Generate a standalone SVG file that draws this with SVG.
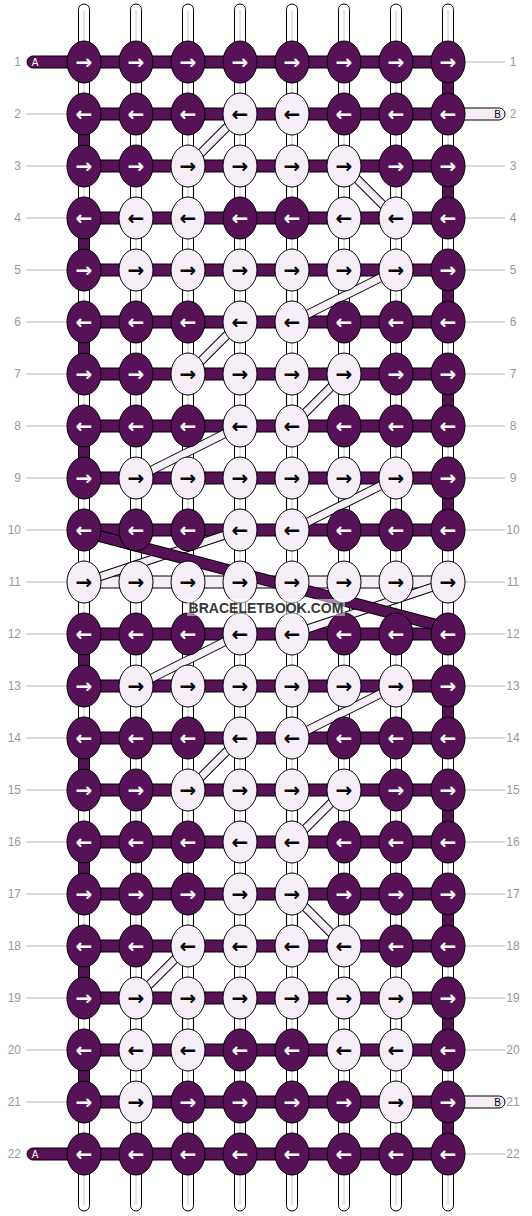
<svg xmlns="http://www.w3.org/2000/svg" width="532" height="1216" viewBox="0 0 532 1216">
<style>
.bg{fill:#fff}
.warp{fill:#fff;stroke:#000;stroke-width:1}
.wc{stroke:#c8c8c8;stroke-width:1}
.pb{fill:#561157;stroke:#000;stroke-width:1}
.lb{fill:#f5eef7;stroke:#000;stroke-width:1}
.do{stroke:#000;stroke-width:9;fill:none}
.di{stroke:#f5eef7;stroke-width:7;fill:none}
.po{stroke:#000;stroke-width:12;fill:none}
.pi{stroke:#561157;stroke-width:10;fill:none}
.d{fill:#561157;stroke:#000;stroke-width:1}
.l{fill:#f5eef7;stroke:#000;stroke-width:1}
.tw,.tb{font-family:"DejaVu Sans",sans-serif;font-weight:bold;font-size:20px;text-anchor:middle}
.tw{fill:#fff}
.tb{fill:#000}
.gl{stroke:#bbb;stroke-width:1}
.lab{font-family:"Liberation Sans",Arial,sans-serif;font-size:12px;fill:#999}
.le{text-anchor:end}
.ri{text-anchor:middle}
.endt{font-family:"Liberation Sans",Arial,sans-serif;font-size:10px;text-anchor:middle}
.wm{font-family:"Liberation Sans",Arial,sans-serif;font-size:14px;font-weight:bold;fill:#383838;text-anchor:middle}
</style>
<rect class="bg" x="0" y="0" width="532" height="1216"/>
<g id="warps">
<rect class="warp" x="78.5" y="4" width="11" height="1207" rx="5.5"/>
<rect class="warp" x="130.5" y="4" width="11" height="1207" rx="5.5"/>
<rect class="warp" x="182.5" y="4" width="11" height="1207" rx="5.5"/>
<rect class="warp" x="234.5" y="4" width="11" height="1207" rx="5.5"/>
<rect class="warp" x="286.5" y="4" width="11" height="1207" rx="5.5"/>
<rect class="warp" x="338.5" y="4" width="11" height="1207" rx="5.5"/>
<rect class="warp" x="390.5" y="4" width="11" height="1207" rx="5.5"/>
<rect class="warp" x="442.5" y="4" width="11" height="1207" rx="5.5"/>
<line class="wc" x1="84" y1="10" x2="84" y2="1205"/>
<line class="wc" x1="136" y1="10" x2="136" y2="1205"/>
<line class="wc" x1="188" y1="10" x2="188" y2="1205"/>
<line class="wc" x1="240" y1="10" x2="240" y2="1205"/>
<line class="wc" x1="292" y1="10" x2="292" y2="1205"/>
<line class="wc" x1="344" y1="10" x2="344" y2="1205"/>
<line class="wc" x1="396" y1="10" x2="396" y2="1205"/>
<line class="wc" x1="448" y1="10" x2="448" y2="1205"/>
</g>
<g id="guides">
<line class="gl" x1="26" y1="114" x2="67" y2="114"/>
<line class="gl" x1="26" y1="166" x2="67" y2="166"/>
<line class="gl" x1="26" y1="218" x2="67" y2="218"/>
<line class="gl" x1="26" y1="270" x2="67" y2="270"/>
<line class="gl" x1="26" y1="322" x2="67" y2="322"/>
<line class="gl" x1="26" y1="374" x2="67" y2="374"/>
<line class="gl" x1="26" y1="426" x2="67" y2="426"/>
<line class="gl" x1="26" y1="478" x2="67" y2="478"/>
<line class="gl" x1="26" y1="530" x2="67" y2="530"/>
<line class="gl" x1="26" y1="582" x2="67" y2="582"/>
<line class="gl" x1="26" y1="634" x2="67" y2="634"/>
<line class="gl" x1="26" y1="686" x2="67" y2="686"/>
<line class="gl" x1="26" y1="738" x2="67" y2="738"/>
<line class="gl" x1="26" y1="790" x2="67" y2="790"/>
<line class="gl" x1="26" y1="842" x2="67" y2="842"/>
<line class="gl" x1="26" y1="894" x2="67" y2="894"/>
<line class="gl" x1="26" y1="946" x2="67" y2="946"/>
<line class="gl" x1="26" y1="998" x2="67" y2="998"/>
<line class="gl" x1="26" y1="1050" x2="67" y2="1050"/>
<line class="gl" x1="26" y1="1102" x2="67" y2="1102"/>
<line class="gl" x1="465" y1="62" x2="505" y2="62"/>
<line class="gl" x1="465" y1="166" x2="505" y2="166"/>
<line class="gl" x1="465" y1="218" x2="505" y2="218"/>
<line class="gl" x1="465" y1="270" x2="505" y2="270"/>
<line class="gl" x1="465" y1="322" x2="505" y2="322"/>
<line class="gl" x1="465" y1="374" x2="505" y2="374"/>
<line class="gl" x1="465" y1="426" x2="505" y2="426"/>
<line class="gl" x1="465" y1="478" x2="505" y2="478"/>
<line class="gl" x1="465" y1="530" x2="505" y2="530"/>
<line class="gl" x1="465" y1="582" x2="505" y2="582"/>
<line class="gl" x1="465" y1="634" x2="505" y2="634"/>
<line class="gl" x1="465" y1="686" x2="505" y2="686"/>
<line class="gl" x1="465" y1="738" x2="505" y2="738"/>
<line class="gl" x1="465" y1="790" x2="505" y2="790"/>
<line class="gl" x1="465" y1="842" x2="505" y2="842"/>
<line class="gl" x1="465" y1="894" x2="505" y2="894"/>
<line class="gl" x1="465" y1="946" x2="505" y2="946"/>
<line class="gl" x1="465" y1="998" x2="505" y2="998"/>
<line class="gl" x1="465" y1="1050" x2="505" y2="1050"/>
<line class="gl" x1="465" y1="1154" x2="505" y2="1154"/>
</g>
<g id="connectors">
<rect class="pb" x="27" y="56" width="421" height="12" rx="6"/>
<rect class="pb" x="84" y="108" width="364" height="12"/>
<rect class="lb" x="440" y="108" width="65" height="12" rx="6"/>
<rect class="pb" x="84" y="160" width="364" height="12"/>
<rect class="pb" x="84" y="212" width="364" height="12"/>
<rect class="pb" x="84" y="264" width="364" height="12"/>
<rect class="pb" x="84" y="316" width="364" height="12"/>
<rect class="pb" x="84" y="368" width="364" height="12"/>
<rect class="pb" x="84" y="420" width="364" height="12"/>
<rect class="pb" x="84" y="472" width="364" height="12"/>
<rect class="pb" x="84" y="524" width="364" height="12"/>
<rect class="lb" x="84" y="576" width="364" height="12"/>
<rect class="pb" x="84" y="628" width="364" height="12"/>
<rect class="pb" x="84" y="680" width="364" height="12"/>
<rect class="pb" x="84" y="732" width="364" height="12"/>
<rect class="pb" x="84" y="784" width="364" height="12"/>
<rect class="pb" x="84" y="836" width="364" height="12"/>
<rect class="pb" x="84" y="888" width="364" height="12"/>
<rect class="pb" x="84" y="940" width="364" height="12"/>
<rect class="pb" x="84" y="992" width="364" height="12"/>
<rect class="pb" x="84" y="1044" width="364" height="12"/>
<rect class="pb" x="84" y="1096" width="364" height="12"/>
<rect class="lb" x="440" y="1096" width="65" height="12" rx="6"/>
<rect class="pb" x="27" y="1148" width="421" height="12" rx="6"/>
<rect class="pb" x="442.5" y="62" width="11" height="52"/>
<rect class="pb" x="442.5" y="166" width="11" height="52"/>
<rect class="pb" x="442.5" y="270" width="11" height="52"/>
<rect class="pb" x="442.5" y="374" width="11" height="52"/>
<rect class="pb" x="442.5" y="478" width="11" height="52"/>
<rect class="pb" x="442.5" y="686" width="11" height="52"/>
<rect class="pb" x="442.5" y="790" width="11" height="52"/>
<rect class="pb" x="442.5" y="894" width="11" height="52"/>
<rect class="pb" x="442.5" y="998" width="11" height="52"/>
<rect class="pb" x="442.5" y="1102" width="11" height="52"/>
<rect class="pb" x="78.5" y="114" width="11" height="52"/>
<rect class="pb" x="78.5" y="218" width="11" height="52"/>
<rect class="pb" x="78.5" y="322" width="11" height="52"/>
<rect class="pb" x="78.5" y="426" width="11" height="52"/>
<rect class="pb" x="78.5" y="634" width="11" height="52"/>
<rect class="pb" x="78.5" y="738" width="11" height="52"/>
<rect class="pb" x="78.5" y="842" width="11" height="52"/>
<rect class="pb" x="78.5" y="946" width="11" height="52"/>
<rect class="pb" x="78.5" y="1050" width="11" height="52"/>
<g>
<line class="do" x1="240" y1="114" x2="188" y2="166"/><line class="di" x1="240" y1="114" x2="188" y2="166"/>
<line class="do" x1="344" y1="166" x2="396" y2="218"/><line class="di" x1="344" y1="166" x2="396" y2="218"/>
<line class="do" x1="396" y1="270" x2="292" y2="322"/><line class="di" x1="396" y1="270" x2="292" y2="322"/>
<line class="do" x1="240" y1="322" x2="188" y2="374"/><line class="di" x1="240" y1="322" x2="188" y2="374"/>
<line class="do" x1="344" y1="374" x2="292" y2="426"/><line class="di" x1="344" y1="374" x2="292" y2="426"/>
<line class="do" x1="240" y1="426" x2="136" y2="478"/><line class="di" x1="240" y1="426" x2="136" y2="478"/>
<line class="do" x1="396" y1="478" x2="292" y2="530"/><line class="di" x1="396" y1="478" x2="292" y2="530"/>
<line class="do" x1="240" y1="530" x2="84" y2="582"/><line class="di" x1="240" y1="530" x2="84" y2="582"/>
<line class="do" x1="448" y1="582" x2="292" y2="634"/><line class="di" x1="448" y1="582" x2="292" y2="634"/>
<line class="do" x1="240" y1="634" x2="136" y2="686"/><line class="di" x1="240" y1="634" x2="136" y2="686"/>
<line class="do" x1="396" y1="686" x2="292" y2="738"/><line class="di" x1="396" y1="686" x2="292" y2="738"/>
<line class="do" x1="240" y1="738" x2="188" y2="790"/><line class="di" x1="240" y1="738" x2="188" y2="790"/>
<line class="do" x1="344" y1="790" x2="292" y2="842"/><line class="di" x1="344" y1="790" x2="292" y2="842"/>
<line class="do" x1="292" y1="894" x2="344" y2="946"/><line class="di" x1="292" y1="894" x2="344" y2="946"/>
<line class="do" x1="188" y1="946" x2="136" y2="998"/><line class="di" x1="188" y1="946" x2="136" y2="998"/>
</g>
<line class="po" x1="84" y1="532" x2="448" y2="628"/><line class="pi" x1="84" y1="532" x2="448" y2="628"/>
<text class="endt" x="35" y="66" fill="#fff">A</text>
<text class="endt" x="35" y="1158" fill="#fff">A</text>
<text class="endt" x="497.5" y="118" fill="#000">B</text>
<text class="endt" x="497.5" y="1106" fill="#000">B</text>
</g>
<g id="r1">
<g id="n1-1"><ellipse class="d" cx="84" cy="62" rx="17" ry="21"/><text class="tw" x="84" y="69">→</text></g>
<g id="n1-2"><ellipse class="d" cx="136" cy="62" rx="17" ry="21"/><text class="tw" x="136" y="69">→</text></g>
<g id="n1-3"><ellipse class="d" cx="188" cy="62" rx="17" ry="21"/><text class="tw" x="188" y="69">→</text></g>
<g id="n1-4"><ellipse class="d" cx="240" cy="62" rx="17" ry="21"/><text class="tw" x="240" y="69">→</text></g>
<g id="n1-5"><ellipse class="d" cx="292" cy="62" rx="17" ry="21"/><text class="tw" x="292" y="69">→</text></g>
<g id="n1-6"><ellipse class="d" cx="344" cy="62" rx="17" ry="21"/><text class="tw" x="344" y="69">→</text></g>
<g id="n1-7"><ellipse class="d" cx="396" cy="62" rx="17" ry="21"/><text class="tw" x="396" y="69">→</text></g>
<g id="n1-8"><ellipse class="d" cx="448" cy="62" rx="17" ry="21"/><text class="tw" x="448" y="69">→</text></g>
</g>
<g id="r2">
<g id="n2-1"><ellipse class="d" cx="84" cy="114" rx="17" ry="21"/><text class="tw" x="84" y="121">←</text></g>
<g id="n2-2"><ellipse class="d" cx="136" cy="114" rx="17" ry="21"/><text class="tw" x="136" y="121">←</text></g>
<g id="n2-3"><ellipse class="d" cx="188" cy="114" rx="17" ry="21"/><text class="tw" x="188" y="121">←</text></g>
<g id="n2-4"><ellipse class="l" cx="240" cy="114" rx="17" ry="21"/><text class="tb" x="240" y="121">←</text></g>
<g id="n2-5"><ellipse class="l" cx="292" cy="114" rx="17" ry="21"/><text class="tb" x="292" y="121">←</text></g>
<g id="n2-6"><ellipse class="d" cx="344" cy="114" rx="17" ry="21"/><text class="tw" x="344" y="121">←</text></g>
<g id="n2-7"><ellipse class="d" cx="396" cy="114" rx="17" ry="21"/><text class="tw" x="396" y="121">←</text></g>
<g id="n2-8"><ellipse class="d" cx="448" cy="114" rx="17" ry="21"/><text class="tw" x="448" y="121">←</text></g>
</g>
<g id="r3">
<g id="n3-1"><ellipse class="d" cx="84" cy="166" rx="17" ry="21"/><text class="tw" x="84" y="173">→</text></g>
<g id="n3-2"><ellipse class="d" cx="136" cy="166" rx="17" ry="21"/><text class="tw" x="136" y="173">→</text></g>
<g id="n3-3"><ellipse class="l" cx="188" cy="166" rx="17" ry="21"/><text class="tb" x="188" y="173">→</text></g>
<g id="n3-4"><ellipse class="l" cx="240" cy="166" rx="17" ry="21"/><text class="tb" x="240" y="173">→</text></g>
<g id="n3-5"><ellipse class="l" cx="292" cy="166" rx="17" ry="21"/><text class="tb" x="292" y="173">→</text></g>
<g id="n3-6"><ellipse class="l" cx="344" cy="166" rx="17" ry="21"/><text class="tb" x="344" y="173">→</text></g>
<g id="n3-7"><ellipse class="d" cx="396" cy="166" rx="17" ry="21"/><text class="tw" x="396" y="173">→</text></g>
<g id="n3-8"><ellipse class="d" cx="448" cy="166" rx="17" ry="21"/><text class="tw" x="448" y="173">→</text></g>
</g>
<g id="r4">
<g id="n4-1"><ellipse class="d" cx="84" cy="218" rx="17" ry="21"/><text class="tw" x="84" y="225">←</text></g>
<g id="n4-2"><ellipse class="l" cx="136" cy="218" rx="17" ry="21"/><text class="tb" x="136" y="225">←</text></g>
<g id="n4-3"><ellipse class="l" cx="188" cy="218" rx="17" ry="21"/><text class="tb" x="188" y="225">←</text></g>
<g id="n4-4"><ellipse class="d" cx="240" cy="218" rx="17" ry="21"/><text class="tw" x="240" y="225">←</text></g>
<g id="n4-5"><ellipse class="d" cx="292" cy="218" rx="17" ry="21"/><text class="tw" x="292" y="225">←</text></g>
<g id="n4-6"><ellipse class="l" cx="344" cy="218" rx="17" ry="21"/><text class="tb" x="344" y="225">←</text></g>
<g id="n4-7"><ellipse class="l" cx="396" cy="218" rx="17" ry="21"/><text class="tb" x="396" y="225">←</text></g>
<g id="n4-8"><ellipse class="d" cx="448" cy="218" rx="17" ry="21"/><text class="tw" x="448" y="225">←</text></g>
</g>
<g id="r5">
<g id="n5-1"><ellipse class="d" cx="84" cy="270" rx="17" ry="21"/><text class="tw" x="84" y="277">→</text></g>
<g id="n5-2"><ellipse class="l" cx="136" cy="270" rx="17" ry="21"/><text class="tb" x="136" y="277">→</text></g>
<g id="n5-3"><ellipse class="l" cx="188" cy="270" rx="17" ry="21"/><text class="tb" x="188" y="277">→</text></g>
<g id="n5-4"><ellipse class="l" cx="240" cy="270" rx="17" ry="21"/><text class="tb" x="240" y="277">→</text></g>
<g id="n5-5"><ellipse class="l" cx="292" cy="270" rx="17" ry="21"/><text class="tb" x="292" y="277">→</text></g>
<g id="n5-6"><ellipse class="l" cx="344" cy="270" rx="17" ry="21"/><text class="tb" x="344" y="277">→</text></g>
<g id="n5-7"><ellipse class="l" cx="396" cy="270" rx="17" ry="21"/><text class="tb" x="396" y="277">→</text></g>
<g id="n5-8"><ellipse class="d" cx="448" cy="270" rx="17" ry="21"/><text class="tw" x="448" y="277">→</text></g>
</g>
<g id="r6">
<g id="n6-1"><ellipse class="d" cx="84" cy="322" rx="17" ry="21"/><text class="tw" x="84" y="329">←</text></g>
<g id="n6-2"><ellipse class="d" cx="136" cy="322" rx="17" ry="21"/><text class="tw" x="136" y="329">←</text></g>
<g id="n6-3"><ellipse class="d" cx="188" cy="322" rx="17" ry="21"/><text class="tw" x="188" y="329">←</text></g>
<g id="n6-4"><ellipse class="l" cx="240" cy="322" rx="17" ry="21"/><text class="tb" x="240" y="329">←</text></g>
<g id="n6-5"><ellipse class="l" cx="292" cy="322" rx="17" ry="21"/><text class="tb" x="292" y="329">←</text></g>
<g id="n6-6"><ellipse class="d" cx="344" cy="322" rx="17" ry="21"/><text class="tw" x="344" y="329">←</text></g>
<g id="n6-7"><ellipse class="d" cx="396" cy="322" rx="17" ry="21"/><text class="tw" x="396" y="329">←</text></g>
<g id="n6-8"><ellipse class="d" cx="448" cy="322" rx="17" ry="21"/><text class="tw" x="448" y="329">←</text></g>
</g>
<g id="r7">
<g id="n7-1"><ellipse class="d" cx="84" cy="374" rx="17" ry="21"/><text class="tw" x="84" y="381">→</text></g>
<g id="n7-2"><ellipse class="d" cx="136" cy="374" rx="17" ry="21"/><text class="tw" x="136" y="381">→</text></g>
<g id="n7-3"><ellipse class="l" cx="188" cy="374" rx="17" ry="21"/><text class="tb" x="188" y="381">→</text></g>
<g id="n7-4"><ellipse class="l" cx="240" cy="374" rx="17" ry="21"/><text class="tb" x="240" y="381">→</text></g>
<g id="n7-5"><ellipse class="l" cx="292" cy="374" rx="17" ry="21"/><text class="tb" x="292" y="381">→</text></g>
<g id="n7-6"><ellipse class="l" cx="344" cy="374" rx="17" ry="21"/><text class="tb" x="344" y="381">→</text></g>
<g id="n7-7"><ellipse class="d" cx="396" cy="374" rx="17" ry="21"/><text class="tw" x="396" y="381">→</text></g>
<g id="n7-8"><ellipse class="d" cx="448" cy="374" rx="17" ry="21"/><text class="tw" x="448" y="381">→</text></g>
</g>
<g id="r8">
<g id="n8-1"><ellipse class="d" cx="84" cy="426" rx="17" ry="21"/><text class="tw" x="84" y="433">←</text></g>
<g id="n8-2"><ellipse class="d" cx="136" cy="426" rx="17" ry="21"/><text class="tw" x="136" y="433">←</text></g>
<g id="n8-3"><ellipse class="d" cx="188" cy="426" rx="17" ry="21"/><text class="tw" x="188" y="433">←</text></g>
<g id="n8-4"><ellipse class="l" cx="240" cy="426" rx="17" ry="21"/><text class="tb" x="240" y="433">←</text></g>
<g id="n8-5"><ellipse class="l" cx="292" cy="426" rx="17" ry="21"/><text class="tb" x="292" y="433">←</text></g>
<g id="n8-6"><ellipse class="d" cx="344" cy="426" rx="17" ry="21"/><text class="tw" x="344" y="433">←</text></g>
<g id="n8-7"><ellipse class="d" cx="396" cy="426" rx="17" ry="21"/><text class="tw" x="396" y="433">←</text></g>
<g id="n8-8"><ellipse class="d" cx="448" cy="426" rx="17" ry="21"/><text class="tw" x="448" y="433">←</text></g>
</g>
<g id="r9">
<g id="n9-1"><ellipse class="d" cx="84" cy="478" rx="17" ry="21"/><text class="tw" x="84" y="485">→</text></g>
<g id="n9-2"><ellipse class="l" cx="136" cy="478" rx="17" ry="21"/><text class="tb" x="136" y="485">→</text></g>
<g id="n9-3"><ellipse class="l" cx="188" cy="478" rx="17" ry="21"/><text class="tb" x="188" y="485">→</text></g>
<g id="n9-4"><ellipse class="l" cx="240" cy="478" rx="17" ry="21"/><text class="tb" x="240" y="485">→</text></g>
<g id="n9-5"><ellipse class="l" cx="292" cy="478" rx="17" ry="21"/><text class="tb" x="292" y="485">→</text></g>
<g id="n9-6"><ellipse class="l" cx="344" cy="478" rx="17" ry="21"/><text class="tb" x="344" y="485">→</text></g>
<g id="n9-7"><ellipse class="l" cx="396" cy="478" rx="17" ry="21"/><text class="tb" x="396" y="485">→</text></g>
<g id="n9-8"><ellipse class="d" cx="448" cy="478" rx="17" ry="21"/><text class="tw" x="448" y="485">→</text></g>
</g>
<g id="r10">
<g id="n10-1"><ellipse class="d" cx="84" cy="530" rx="17" ry="21"/><text class="tw" x="84" y="537">←</text></g>
<g id="n10-2"><ellipse class="d" cx="136" cy="530" rx="17" ry="21"/><text class="tw" x="136" y="537">←</text></g>
<g id="n10-3"><ellipse class="d" cx="188" cy="530" rx="17" ry="21"/><text class="tw" x="188" y="537">←</text></g>
<g id="n10-4"><ellipse class="l" cx="240" cy="530" rx="17" ry="21"/><text class="tb" x="240" y="537">←</text></g>
<g id="n10-5"><ellipse class="l" cx="292" cy="530" rx="17" ry="21"/><text class="tb" x="292" y="537">←</text></g>
<g id="n10-6"><ellipse class="d" cx="344" cy="530" rx="17" ry="21"/><text class="tw" x="344" y="537">←</text></g>
<g id="n10-7"><ellipse class="d" cx="396" cy="530" rx="17" ry="21"/><text class="tw" x="396" y="537">←</text></g>
<g id="n10-8"><ellipse class="d" cx="448" cy="530" rx="17" ry="21"/><text class="tw" x="448" y="537">←</text></g>
</g>
<g id="r11">
<g id="n11-1"><ellipse class="l" cx="84" cy="582" rx="17" ry="21"/><text class="tb" x="84" y="589">→</text></g>
<g id="n11-2"><ellipse class="l" cx="136" cy="582" rx="17" ry="21"/><text class="tb" x="136" y="589">→</text></g>
<g id="n11-3"><ellipse class="l" cx="188" cy="582" rx="17" ry="21"/><text class="tb" x="188" y="589">→</text></g>
<g id="n11-4"><ellipse class="l" cx="240" cy="582" rx="17" ry="21"/><text class="tb" x="240" y="589">→</text></g>
<g id="n11-5"><ellipse class="l" cx="292" cy="582" rx="17" ry="21"/><text class="tb" x="292" y="589">→</text></g>
<g id="n11-6"><ellipse class="l" cx="344" cy="582" rx="17" ry="21"/><text class="tb" x="344" y="589">→</text></g>
<g id="n11-7"><ellipse class="l" cx="396" cy="582" rx="17" ry="21"/><text class="tb" x="396" y="589">→</text></g>
<g id="n11-8"><ellipse class="l" cx="448" cy="582" rx="17" ry="21"/><text class="tb" x="448" y="589">→</text></g>
</g>
<g id="r12">
<g id="n12-1"><ellipse class="d" cx="84" cy="634" rx="17" ry="21"/><text class="tw" x="84" y="641">←</text></g>
<g id="n12-2"><ellipse class="d" cx="136" cy="634" rx="17" ry="21"/><text class="tw" x="136" y="641">←</text></g>
<g id="n12-3"><ellipse class="d" cx="188" cy="634" rx="17" ry="21"/><text class="tw" x="188" y="641">←</text></g>
<g id="n12-4"><ellipse class="l" cx="240" cy="634" rx="17" ry="21"/><text class="tb" x="240" y="641">←</text></g>
<g id="n12-5"><ellipse class="l" cx="292" cy="634" rx="17" ry="21"/><text class="tb" x="292" y="641">←</text></g>
<g id="n12-6"><ellipse class="d" cx="344" cy="634" rx="17" ry="21"/><text class="tw" x="344" y="641">←</text></g>
<g id="n12-7"><ellipse class="d" cx="396" cy="634" rx="17" ry="21"/><text class="tw" x="396" y="641">←</text></g>
<g id="n12-8"><ellipse class="d" cx="448" cy="634" rx="17" ry="21"/><text class="tw" x="448" y="641">←</text></g>
</g>
<g id="r13">
<g id="n13-1"><ellipse class="d" cx="84" cy="686" rx="17" ry="21"/><text class="tw" x="84" y="693">→</text></g>
<g id="n13-2"><ellipse class="l" cx="136" cy="686" rx="17" ry="21"/><text class="tb" x="136" y="693">→</text></g>
<g id="n13-3"><ellipse class="l" cx="188" cy="686" rx="17" ry="21"/><text class="tb" x="188" y="693">→</text></g>
<g id="n13-4"><ellipse class="l" cx="240" cy="686" rx="17" ry="21"/><text class="tb" x="240" y="693">→</text></g>
<g id="n13-5"><ellipse class="l" cx="292" cy="686" rx="17" ry="21"/><text class="tb" x="292" y="693">→</text></g>
<g id="n13-6"><ellipse class="l" cx="344" cy="686" rx="17" ry="21"/><text class="tb" x="344" y="693">→</text></g>
<g id="n13-7"><ellipse class="l" cx="396" cy="686" rx="17" ry="21"/><text class="tb" x="396" y="693">→</text></g>
<g id="n13-8"><ellipse class="d" cx="448" cy="686" rx="17" ry="21"/><text class="tw" x="448" y="693">→</text></g>
</g>
<g id="r14">
<g id="n14-1"><ellipse class="d" cx="84" cy="738" rx="17" ry="21"/><text class="tw" x="84" y="745">←</text></g>
<g id="n14-2"><ellipse class="d" cx="136" cy="738" rx="17" ry="21"/><text class="tw" x="136" y="745">←</text></g>
<g id="n14-3"><ellipse class="d" cx="188" cy="738" rx="17" ry="21"/><text class="tw" x="188" y="745">←</text></g>
<g id="n14-4"><ellipse class="l" cx="240" cy="738" rx="17" ry="21"/><text class="tb" x="240" y="745">←</text></g>
<g id="n14-5"><ellipse class="l" cx="292" cy="738" rx="17" ry="21"/><text class="tb" x="292" y="745">←</text></g>
<g id="n14-6"><ellipse class="d" cx="344" cy="738" rx="17" ry="21"/><text class="tw" x="344" y="745">←</text></g>
<g id="n14-7"><ellipse class="d" cx="396" cy="738" rx="17" ry="21"/><text class="tw" x="396" y="745">←</text></g>
<g id="n14-8"><ellipse class="d" cx="448" cy="738" rx="17" ry="21"/><text class="tw" x="448" y="745">←</text></g>
</g>
<g id="r15">
<g id="n15-1"><ellipse class="d" cx="84" cy="790" rx="17" ry="21"/><text class="tw" x="84" y="797">→</text></g>
<g id="n15-2"><ellipse class="d" cx="136" cy="790" rx="17" ry="21"/><text class="tw" x="136" y="797">→</text></g>
<g id="n15-3"><ellipse class="l" cx="188" cy="790" rx="17" ry="21"/><text class="tb" x="188" y="797">→</text></g>
<g id="n15-4"><ellipse class="l" cx="240" cy="790" rx="17" ry="21"/><text class="tb" x="240" y="797">→</text></g>
<g id="n15-5"><ellipse class="l" cx="292" cy="790" rx="17" ry="21"/><text class="tb" x="292" y="797">→</text></g>
<g id="n15-6"><ellipse class="l" cx="344" cy="790" rx="17" ry="21"/><text class="tb" x="344" y="797">→</text></g>
<g id="n15-7"><ellipse class="d" cx="396" cy="790" rx="17" ry="21"/><text class="tw" x="396" y="797">→</text></g>
<g id="n15-8"><ellipse class="d" cx="448" cy="790" rx="17" ry="21"/><text class="tw" x="448" y="797">→</text></g>
</g>
<g id="r16">
<g id="n16-1"><ellipse class="d" cx="84" cy="842" rx="17" ry="21"/><text class="tw" x="84" y="849">←</text></g>
<g id="n16-2"><ellipse class="d" cx="136" cy="842" rx="17" ry="21"/><text class="tw" x="136" y="849">←</text></g>
<g id="n16-3"><ellipse class="d" cx="188" cy="842" rx="17" ry="21"/><text class="tw" x="188" y="849">←</text></g>
<g id="n16-4"><ellipse class="l" cx="240" cy="842" rx="17" ry="21"/><text class="tb" x="240" y="849">←</text></g>
<g id="n16-5"><ellipse class="l" cx="292" cy="842" rx="17" ry="21"/><text class="tb" x="292" y="849">←</text></g>
<g id="n16-6"><ellipse class="d" cx="344" cy="842" rx="17" ry="21"/><text class="tw" x="344" y="849">←</text></g>
<g id="n16-7"><ellipse class="d" cx="396" cy="842" rx="17" ry="21"/><text class="tw" x="396" y="849">←</text></g>
<g id="n16-8"><ellipse class="d" cx="448" cy="842" rx="17" ry="21"/><text class="tw" x="448" y="849">←</text></g>
</g>
<g id="r17">
<g id="n17-1"><ellipse class="d" cx="84" cy="894" rx="17" ry="21"/><text class="tw" x="84" y="901">→</text></g>
<g id="n17-2"><ellipse class="d" cx="136" cy="894" rx="17" ry="21"/><text class="tw" x="136" y="901">→</text></g>
<g id="n17-3"><ellipse class="d" cx="188" cy="894" rx="17" ry="21"/><text class="tw" x="188" y="901">→</text></g>
<g id="n17-4"><ellipse class="l" cx="240" cy="894" rx="17" ry="21"/><text class="tb" x="240" y="901">→</text></g>
<g id="n17-5"><ellipse class="l" cx="292" cy="894" rx="17" ry="21"/><text class="tb" x="292" y="901">→</text></g>
<g id="n17-6"><ellipse class="d" cx="344" cy="894" rx="17" ry="21"/><text class="tw" x="344" y="901">→</text></g>
<g id="n17-7"><ellipse class="d" cx="396" cy="894" rx="17" ry="21"/><text class="tw" x="396" y="901">→</text></g>
<g id="n17-8"><ellipse class="d" cx="448" cy="894" rx="17" ry="21"/><text class="tw" x="448" y="901">→</text></g>
</g>
<g id="r18">
<g id="n18-1"><ellipse class="d" cx="84" cy="946" rx="17" ry="21"/><text class="tw" x="84" y="953">←</text></g>
<g id="n18-2"><ellipse class="d" cx="136" cy="946" rx="17" ry="21"/><text class="tw" x="136" y="953">←</text></g>
<g id="n18-3"><ellipse class="l" cx="188" cy="946" rx="17" ry="21"/><text class="tb" x="188" y="953">←</text></g>
<g id="n18-4"><ellipse class="l" cx="240" cy="946" rx="17" ry="21"/><text class="tb" x="240" y="953">←</text></g>
<g id="n18-5"><ellipse class="l" cx="292" cy="946" rx="17" ry="21"/><text class="tb" x="292" y="953">←</text></g>
<g id="n18-6"><ellipse class="l" cx="344" cy="946" rx="17" ry="21"/><text class="tb" x="344" y="953">←</text></g>
<g id="n18-7"><ellipse class="d" cx="396" cy="946" rx="17" ry="21"/><text class="tw" x="396" y="953">←</text></g>
<g id="n18-8"><ellipse class="d" cx="448" cy="946" rx="17" ry="21"/><text class="tw" x="448" y="953">←</text></g>
</g>
<g id="r19">
<g id="n19-1"><ellipse class="d" cx="84" cy="998" rx="17" ry="21"/><text class="tw" x="84" y="1005">→</text></g>
<g id="n19-2"><ellipse class="l" cx="136" cy="998" rx="17" ry="21"/><text class="tb" x="136" y="1005">→</text></g>
<g id="n19-3"><ellipse class="l" cx="188" cy="998" rx="17" ry="21"/><text class="tb" x="188" y="1005">→</text></g>
<g id="n19-4"><ellipse class="l" cx="240" cy="998" rx="17" ry="21"/><text class="tb" x="240" y="1005">→</text></g>
<g id="n19-5"><ellipse class="l" cx="292" cy="998" rx="17" ry="21"/><text class="tb" x="292" y="1005">→</text></g>
<g id="n19-6"><ellipse class="l" cx="344" cy="998" rx="17" ry="21"/><text class="tb" x="344" y="1005">→</text></g>
<g id="n19-7"><ellipse class="l" cx="396" cy="998" rx="17" ry="21"/><text class="tb" x="396" y="1005">→</text></g>
<g id="n19-8"><ellipse class="d" cx="448" cy="998" rx="17" ry="21"/><text class="tw" x="448" y="1005">→</text></g>
</g>
<g id="r20">
<g id="n20-1"><ellipse class="d" cx="84" cy="1050" rx="17" ry="21"/><text class="tw" x="84" y="1057">←</text></g>
<g id="n20-2"><ellipse class="l" cx="136" cy="1050" rx="17" ry="21"/><text class="tb" x="136" y="1057">←</text></g>
<g id="n20-3"><ellipse class="l" cx="188" cy="1050" rx="17" ry="21"/><text class="tb" x="188" y="1057">←</text></g>
<g id="n20-4"><ellipse class="d" cx="240" cy="1050" rx="17" ry="21"/><text class="tw" x="240" y="1057">←</text></g>
<g id="n20-5"><ellipse class="d" cx="292" cy="1050" rx="17" ry="21"/><text class="tw" x="292" y="1057">←</text></g>
<g id="n20-6"><ellipse class="l" cx="344" cy="1050" rx="17" ry="21"/><text class="tb" x="344" y="1057">←</text></g>
<g id="n20-7"><ellipse class="l" cx="396" cy="1050" rx="17" ry="21"/><text class="tb" x="396" y="1057">←</text></g>
<g id="n20-8"><ellipse class="d" cx="448" cy="1050" rx="17" ry="21"/><text class="tw" x="448" y="1057">←</text></g>
</g>
<g id="r21">
<g id="n21-1"><ellipse class="d" cx="84" cy="1102" rx="17" ry="21"/><text class="tw" x="84" y="1109">→</text></g>
<g id="n21-2"><ellipse class="l" cx="136" cy="1102" rx="17" ry="21"/><text class="tb" x="136" y="1109">→</text></g>
<g id="n21-3"><ellipse class="d" cx="188" cy="1102" rx="17" ry="21"/><text class="tw" x="188" y="1109">→</text></g>
<g id="n21-4"><ellipse class="d" cx="240" cy="1102" rx="17" ry="21"/><text class="tw" x="240" y="1109">→</text></g>
<g id="n21-5"><ellipse class="d" cx="292" cy="1102" rx="17" ry="21"/><text class="tw" x="292" y="1109">→</text></g>
<g id="n21-6"><ellipse class="d" cx="344" cy="1102" rx="17" ry="21"/><text class="tw" x="344" y="1109">→</text></g>
<g id="n21-7"><ellipse class="l" cx="396" cy="1102" rx="17" ry="21"/><text class="tb" x="396" y="1109">→</text></g>
<g id="n21-8"><ellipse class="d" cx="448" cy="1102" rx="17" ry="21"/><text class="tw" x="448" y="1109">→</text></g>
</g>
<g id="r22">
<g id="n22-1"><ellipse class="d" cx="84" cy="1154" rx="17" ry="21"/><text class="tw" x="84" y="1161">←</text></g>
<g id="n22-2"><ellipse class="d" cx="136" cy="1154" rx="17" ry="21"/><text class="tw" x="136" y="1161">←</text></g>
<g id="n22-3"><ellipse class="d" cx="188" cy="1154" rx="17" ry="21"/><text class="tw" x="188" y="1161">←</text></g>
<g id="n22-4"><ellipse class="d" cx="240" cy="1154" rx="17" ry="21"/><text class="tw" x="240" y="1161">←</text></g>
<g id="n22-5"><ellipse class="d" cx="292" cy="1154" rx="17" ry="21"/><text class="tw" x="292" y="1161">←</text></g>
<g id="n22-6"><ellipse class="d" cx="344" cy="1154" rx="17" ry="21"/><text class="tw" x="344" y="1161">←</text></g>
<g id="n22-7"><ellipse class="d" cx="396" cy="1154" rx="17" ry="21"/><text class="tw" x="396" y="1161">←</text></g>
<g id="n22-8"><ellipse class="d" cx="448" cy="1154" rx="17" ry="21"/><text class="tw" x="448" y="1161">←</text></g>
</g>
<g id="labels">
<text class="lab le" x="21" y="66">1</text><text class="lab ri" x="513" y="66">1</text>
<text class="lab le" x="21" y="118">2</text><text class="lab ri" x="513" y="118">2</text>
<text class="lab le" x="21" y="170">3</text><text class="lab ri" x="513" y="170">3</text>
<text class="lab le" x="21" y="222">4</text><text class="lab ri" x="513" y="222">4</text>
<text class="lab le" x="21" y="274">5</text><text class="lab ri" x="513" y="274">5</text>
<text class="lab le" x="21" y="326">6</text><text class="lab ri" x="513" y="326">6</text>
<text class="lab le" x="21" y="378">7</text><text class="lab ri" x="513" y="378">7</text>
<text class="lab le" x="21" y="430">8</text><text class="lab ri" x="513" y="430">8</text>
<text class="lab le" x="21" y="482">9</text><text class="lab ri" x="513" y="482">9</text>
<text class="lab le" x="21" y="534">10</text><text class="lab ri" x="513" y="534">10</text>
<text class="lab le" x="21" y="586">11</text><text class="lab ri" x="513" y="586">11</text>
<text class="lab le" x="21" y="638">12</text><text class="lab ri" x="513" y="638">12</text>
<text class="lab le" x="21" y="690">13</text><text class="lab ri" x="513" y="690">13</text>
<text class="lab le" x="21" y="742">14</text><text class="lab ri" x="513" y="742">14</text>
<text class="lab le" x="21" y="794">15</text><text class="lab ri" x="513" y="794">15</text>
<text class="lab le" x="21" y="846">16</text><text class="lab ri" x="513" y="846">16</text>
<text class="lab le" x="21" y="898">17</text><text class="lab ri" x="513" y="898">17</text>
<text class="lab le" x="21" y="950">18</text><text class="lab ri" x="513" y="950">18</text>
<text class="lab le" x="21" y="1002">19</text><text class="lab ri" x="513" y="1002">19</text>
<text class="lab le" x="21" y="1054">20</text><text class="lab ri" x="513" y="1054">20</text>
<text class="lab le" x="21" y="1106">21</text><text class="lab ri" x="513" y="1106">21</text>
<text class="lab le" x="21" y="1158">22</text><text class="lab ri" x="513" y="1158">22</text>
</g>
<g id="watermark">
<rect x="187" y="599" width="158" height="17" fill="#fff" fill-opacity="0.5"/>
<text class="wm" x="266" y="613">BRACELETBOOK.COM</text>
</g>
</svg>
